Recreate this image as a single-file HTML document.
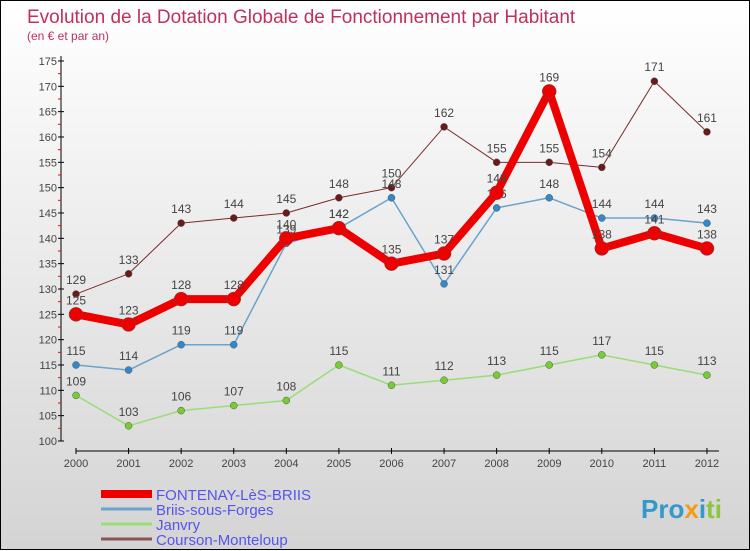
<!DOCTYPE html>
<html><head><meta charset="utf-8"><style>
body{margin:0}
#c{width:748px;height:548px;border:1px solid #000;background:linear-gradient(#fff,#d4d4d4);position:relative;font-family:"Liberation Sans",sans-serif}
svg{position:absolute;left:0;top:0}
</style></head><body>
<div id="c">
<svg id="s" width="750" height="550">
<text x="26" y="22" font-size="19" fill="#c0305a">Evolution de la Dotation Globale de Fonctionnement par Habitant</text>
<text x="26" y="39" font-size="12" fill="#c0305a">(en € et par an)</text>
<text x="640" y="517" font-size="26" font-weight="bold" fill="#3399cc">Pro<tspan fill="#f39c12">x</tspan><tspan fill="#3399cc">i</tspan><tspan fill="#8cc63f">ti</tspan></text>
</svg>
</div>
<script>
const years=[2000,2001,2002,2003,2004,2005,2006,2007,2008,2009,2010,2011,2012];
const fontenay=[125,123,128,128,140,142,135,137,149,169,138,141,138];
const briis=[115,114,119,119,139,142,148,131,146,148,144,144,143];
const janvry=[109,103,106,107,108,115,111,112,113,115,117,115,113];
const courson=[129,133,143,144,145,148,150,162,155,155,154,171,161];
const yTicks=[100,105,110,115,120,125,130,135,140,145,150,155,160,165,170,175];
const NS="http://www.w3.org/2000/svg";
const s=document.getElementById('s');
const X=i=>75+i*52.58, Y=v=>440-(v-100)*5.067;
function el(t,a,p){const e=document.createElementNS(NS,t);for(const k in a)e.setAttribute(k,a[k]);(p||s).appendChild(e);return e;}
let ax=el('line',{x1:60,y1:55,x2:60,y2:440,stroke:'#000'});


let xa=el('line',{x1:75,y1:450,x2:718,y2:450,stroke:'#000'});


yTicks.forEach(v=>{
  el('line',{x1:57,x2:63,y1:Y(v),y2:Y(v),stroke:'#000'});
  if(v<175)el('line',{x1:57,x2:60,y1:Y(v+2.5),y2:Y(v+2.5),stroke:'#f00'});
  const t=el('text',{x:56,y:Y(v)+4,'font-size':11,'text-anchor':'end',fill:'#444'});t.textContent=v;
  
  
});
years.forEach((y,i)=>{
  el('line',{x1:X(i),x2:X(i),y1:447,y2:453,stroke:'#000'});
  const t=el('text',{x:X(i),y:466,'font-size':11,'text-anchor':'middle',fill:'#444'});t.textContent=y;
  
  
});
const series=[
 {d:courson,c:'#7a2b2b',w:1,r:3.5,f:'#6b1a1a',n:'courson'},
 {d:janvry,c:'#99dd77',w:1.5,r:3.5,f:'#77cc33',n:'janvry'},
 {d:briis,c:'#6aa3cc',w:1.5,r:3.5,f:'#3388cc',n:'briis'},
 {d:fontenay,c:'#ee0000',w:8,r:7,f:'#ee0000',n:'fontenay'}];
series.forEach(S=>{
  const p=el('polyline',{points:S.d.map((v,i)=>X(i)+','+Y(v)).join(' '),fill:'none',stroke:S.c,'stroke-width':S.w,'stroke-linejoin':'round'});
  
  
  S.d.forEach((v,i)=>{
    const c=el('circle',{cx:X(i),cy:Y(v),r:S.r,fill:S.f,stroke:'#555','stroke-width':0.5});
    
    
    const t=el('text',{x:X(i),y:Y(v)-10,'font-size':12,'text-anchor':'middle',fill:'#444'});t.textContent=v;
    
    
  });
});
const leg=[['FONTENAY-LèS-BRIIS','#ee0000',8],['Briis-sous-Forges','#6aa3cc',3],['Janvry','#99dd77',3],['Courson-Monteloup','#8a5555',3]];
leg.forEach((L,i)=>{
  const y=493+i*15;
  const g=el('g',{});
  
  
  el('line',{x1:100,x2:151,y1:y,y2:y,stroke:L[1],'stroke-width':L[2]},g);
  const t=el('text',{x:155,y:y+6,'font-size':15,fill:'#5555ee'},g);t.textContent=L[0];
});
</script>
</body></html>
